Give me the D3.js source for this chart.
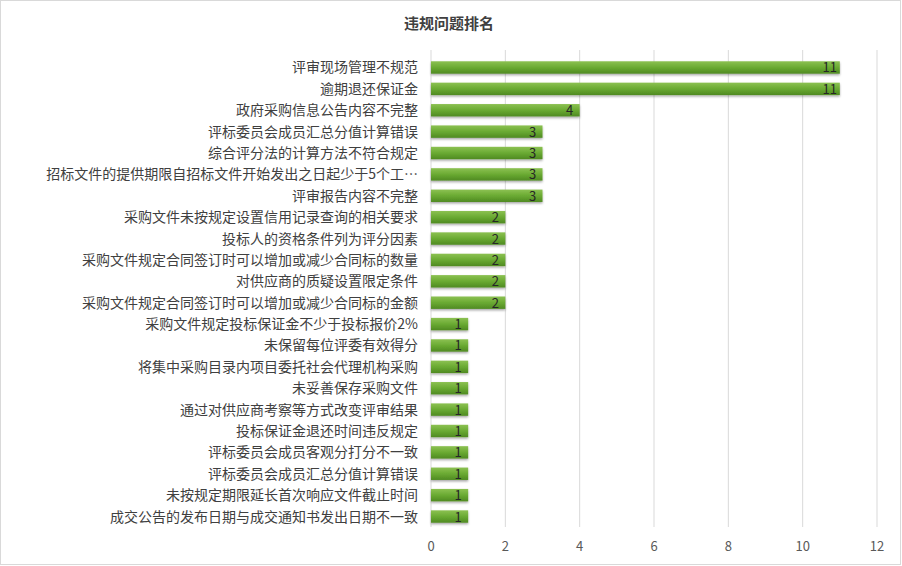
<!DOCTYPE html>
<html><head><meta charset="utf-8">
<script src="https://cdn.jsdelivr.net/npm/d3@7"></script>
<style>body{margin:0;background:#fff}</style>
</head><body>
<script>
const categories = ['评审现场管理不规范','逾期退还保证金','政府采购信息公告内容不完整','评标委员会成员汇总分值计算错误','综合评分法的计算方法不符合规定','招标文件的提供期限自招标文件开始发出之日起少于5个工…','评审报告内容不完整','采购文件未按规定设置信用记录查询的相关要求','投标人的资格条件列为评分因素','采购文件规定合同签订时可以增加或减少合同标的数量','对供应商的质疑设置限定条件','采购文件规定合同签订时可以增加或减少合同标的金额','采购文件规定投标保证金不少于投标报价2%','未保留每位评委有效得分','将集中采购目录内项目委托社会代理机构采购','未妥善保存采购文件','通过对供应商考察等方式改变评审结果','投标保证金退还时间违反规定','评标委员会成员客观分打分不一致','评标委员会成员汇总分值计算错误','未按规定期限延长首次响应文件截止时间','成交公告的发布日期与成交通知书发出日期不一致'];
const values = [11,11,4,3,3,3,3,2,2,2,2,2,1,1,1,1,1,1,1,1,1,1];
const ticks = [0,2,4,6,8,10,12];

const W = 902, H = 566;
const svg = d3.select('body').append('svg').attr('width', W).attr('height', H)
  .style('font-family', '"Noto Sans CJK SC", sans-serif');
svg.append('rect').attr('x', 0.5).attr('y', 0.5).attr('width', W - 2).attr('height', H - 2)
  .attr('fill', '#fff').attr('stroke', '#d9d9d9');

const defs = svg.append('defs');
const g1 = defs.append('linearGradient').attr('id', 'bar').attr('x1', 0).attr('y1', 0).attr('x2', 0).attr('y2', 1);
g1.append('stop').attr('offset', 0).attr('stop-color', '#8cc152');
g1.append('stop').attr('offset', 0.5).attr('stop-color', '#6aaa32');
g1.append('stop').attr('offset', 1).attr('stop-color', '#4f8a22');
const f = defs.append('filter').attr('id', 'sh').attr('x', -0.1).attr('y', -0.5).attr('width', 1.3).attr('height', 2);
f.append('feDropShadow').attr('dx', 0).attr('dy', 1.5).attr('stdDeviation', 1.2).attr('flood-color', '#000').attr('flood-opacity', 0.35);

svg.append('text').attr('x', 449).attr('y', 29).attr('text-anchor', 'middle')
  .attr('font-size', 15).attr('font-weight', 'bold').attr('fill', '#404040').text('违规问题排名');

const x = d3.scaleLinear().domain([0, 12]).range([431, 877]);
// categories repeat, so the band scale works on row indexes
const y = d3.scaleBand().domain(d3.range(categories.length)).range([57, 527]).paddingInner(0.42).paddingOuter(0.2);

svg.append('g').selectAll('line').data(ticks).join('line')
  .attr('x1', d => x(d)).attr('x2', d => x(d)).attr('y1', 50).attr('y2', 527)
  .attr('stroke', '#d9d9d9');

svg.append('g').selectAll('text').data(ticks).join('text')
  .attr('x', d => x(d)).attr('y', 551).attr('text-anchor', 'middle')
  .attr('font-size', 13).attr('fill', '#595959').text(d => d);

svg.append('g').selectAll('text').data(categories).join('text')
  .attr('x', 418).attr('y', (d, i) => y(i) + y.bandwidth() / 2 + 5).attr('text-anchor', 'end')
  .attr('font-size', 14).attr('fill', '#404040').text(d => d);

svg.append('g').selectAll('rect').data(values).join('rect')
  .attr('x', x(0)).attr('y', (d, i) => y(i))
  .attr('width', d => x(d) - x(0)).attr('height', y.bandwidth())
  .attr('fill', 'url(#bar)').attr('filter', 'url(#sh)');

svg.append('g').selectAll('text').data(values).join('text')
  .attr('x', d => x(d) - 10).attr('y', (d, i) => y(i) + y.bandwidth() / 2 + 5)
  .attr('text-anchor', 'middle').attr('font-size', 13).attr('fill', '#262626').text(d => d);
</script>
</body></html>
